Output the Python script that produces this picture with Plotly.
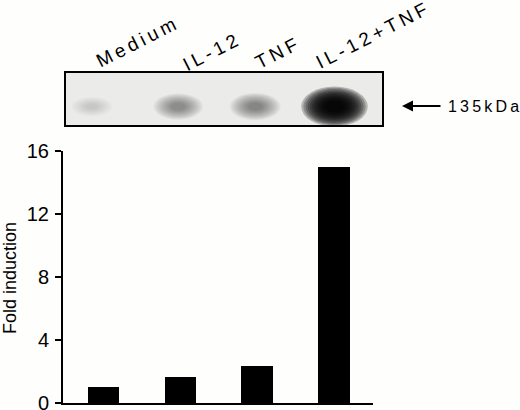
import plotly.graph_objects as go

# ---- data ----
conditions = ["Medium", "IL-12", "TNF", "IL-12+TNF"]
fold_induction = [1.0, 1.65, 2.35, 15.0]
band_density = [0.12, 0.38, 0.42, 0.96]   # darkness of each 135 kDa band
y_ticks = [0, 4, 8, 12, 16]
marker_label = "135kDa"
y_title = "Fold induction"

W, H = 520, 410
def px(x):
    return x / W
def py(y):
    return 1 - y / H

THIN = "\u2009"
def spaced(s, sep=THIN):
    return sep.join(list(s))

FONT = "Liberation Sans, Arial, sans-serif"

fig = go.Figure()

# bar chart
fig.add_trace(go.Bar(
    x=list(range(len(conditions))), y=fold_induction,
    marker=dict(color="black", line=dict(width=0)),
    width=0.41, xaxis="x", yaxis="y", hoverinfo="skip",
    text=conditions, textposition="none",
))

# invisible anchor trace for blot axes
lane_nudge = [-0.15, -0.03, -0.03, 0.0]
lane_x = [i + n for i, n in enumerate(lane_nudge)]
band_y = 0.36
fig.add_trace(go.Scatter(
    x=lane_x, y=[band_y] * len(lane_x), mode="markers",
    marker=dict(opacity=0), xaxis="x2", yaxis="y2", hoverinfo="skip",
    showlegend=False,
))

shapes = []
# blot frame
shapes.append(dict(type="rect", xref="paper", yref="paper",
                   x0=px(65), x1=px(383), y0=py(126), y1=py(72),
                   line=dict(color="black", width=2), fillcolor="#ebebe9",
                   layer="below"))

# blurred bands, stacked translucent ellipses
n_layers = 12
for lx, d in zip(lane_x, band_density):
    hw = 0.25 + 0.19 * d
    hh = 0.16 + 0.22 * d
    alpha = 1 - (1 - d) ** (1.0 / n_layers)
    for k in range(n_layers):
        s = 1.0 - 0.065 * k
        shapes.append(dict(
            type="circle", xref="x2", yref="y2",
            x0=lx - hw * s, x1=lx + hw * s,
            y0=band_y - hh * s, y1=band_y + hh * s,
            line=dict(width=0), fillcolor="black", opacity=alpha,
        ))

annotations = []
# lane labels
label_centers = [(136, 43), (210, 52), (276, 53), (372, 36)]
for name, (cx, cy) in zip(conditions, label_centers):
    annotations.append(dict(
        x=px(cx), y=py(cy), xref="paper", yref="paper",
        text=spaced(name), showarrow=False, textangle=-27,
        xanchor="center", yanchor="middle",
        font=dict(family=FONT, size=19, color="black"),
    ))

# arrow
annotations.append(dict(
    x=px(402), y=py(106), xref="paper", yref="paper",
    ax=40, ay=0, axref="pixel", ayref="pixel", text="",
    showarrow=True, arrowhead=2, arrowsize=1.1, arrowwidth=2,
    arrowcolor="black", standoff=0,
))
annotations.append(dict(
    x=px(446), y=py(106), xref="paper", yref="paper",
    text=spaced(marker_label), showarrow=False,
    xanchor="left", yanchor="middle",
    font=dict(family=FONT, size=16, color="black"),
))
# y title
annotations.append(dict(
    x=px(10), y=py(278), xref="paper", yref="paper",
    text=y_title, showarrow=False, textangle=-90,
    xanchor="center", yanchor="middle",
    font=dict(family=FONT, size=18, color="black"),
))

fig.update_layout(
    width=W, height=H, autosize=False,
    margin=dict(l=0, r=0, t=0, b=0, pad=0),
    paper_bgcolor="#fefefd", plot_bgcolor="rgba(0,0,0,0)",
    showlegend=False, bargap=0,
    xaxis=dict(domain=[px(63), px(373)], range=[-0.526, 3.506],
               showticklabels=False, ticks="", showgrid=False, zeroline=False,
               showline=True, linecolor="black", linewidth=2, fixedrange=True,
               automargin=False),
    yaxis=dict(domain=[py(403), py(151)], range=[0, 16],
               tickvals=y_ticks, ticks="outside", ticklen=6, tickwidth=2,
               tickcolor="black", showgrid=False, zeroline=False,
               showline=True, linecolor="black", linewidth=2,
               tickfont=dict(family=FONT, size=20, color="black"),
               ticklabelstandoff=2, automargin=False,
               ticklabeloverflow="allow"),
    xaxis2=dict(domain=[px(65), px(383)], range=[-0.5, 3.63], visible=False,
                anchor="y2", automargin=False),
    yaxis2=dict(domain=[py(126), py(72)], range=[0, 1], visible=False,
                anchor="x2", automargin=False),
    shapes=shapes, annotations=annotations,
)

fig.write_html(
    "out.html",
    config={"displayModeBar": False},
    post_script="document.body.style.margin='0';document.body.style.padding='0';"
                "document.body.style.overflow='hidden';",
)
